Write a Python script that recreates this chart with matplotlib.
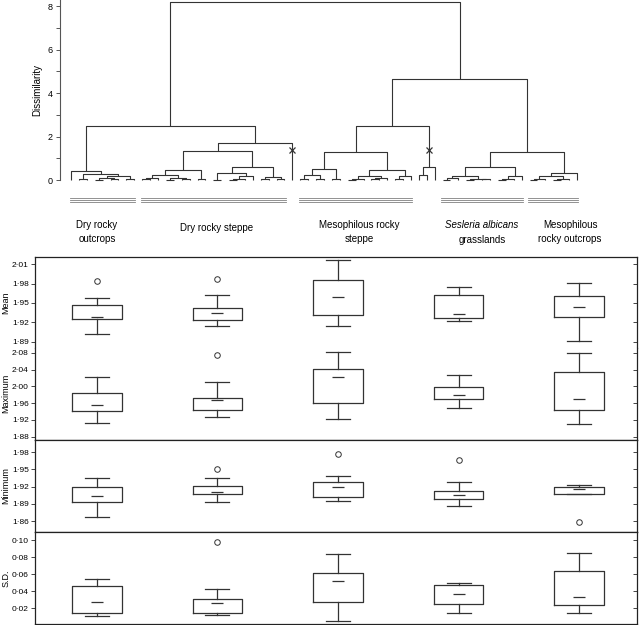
import matplotlib
matplotlib.use("Agg")
import matplotlib.pyplot as plt
from matplotlib.ticker import MultipleLocator, FixedLocator, FuncFormatter

plt.rcParams['font.family'] = ['Liberation Sans', 'DejaVu Sans']

# --- dendrogram (node = [height, left, right], leaf = 0, ("x", ...) = cut mark) ---
DRY_OUTCROPS = [0.43, 0, [0.29, [0.03, 0, 0], [0.18, [0.08, [0.02, 0, 0], [0.03, 0, 0]], [0.03, 0, 0]]]]
DRY_STEPPE = [1.7,
              [1.35,
               [0.47, [0.24, [0.10, [0.03, 0, 0], 0], [0.08, [0.02, 0, 0], [0.03, 0, 0]]], [0.03, 0, 0]],
               [0.58, [0.33, [0.02, 0, 0], [0.20, [0.06, [0.02, 0, 0], 0], 0]], [0.13, [0.03, 0, 0], [0.05, 0, 0]]]],
              ("x", 0)]
MESO_STEPPE = [2.47,
               [1.29,
                [0.49, [0.22, [0.05, 0, 0], [0.03, 0, 0]], [0.03, 0, 0]],
                [0.47, [0.20, [0.05, [0.02, 0, 0], 0], [0.10, [0.03, 0, 0], 0]], [0.20, [0.03, 0, 0], 0]]],
               ("x", [0.61, [0.23, 0, 0], 0])]
SESLERIA = [0.58, [0.20, [0.08, [0.02, 0, 0], 0], [0.05, [0.02, 0, 0], [0.03, 0, 0]]],
            [0.20, [0.06, [0.02, 0, 0], 0], 0]]
MESO_OUTCROPS = [0.31, [0.20, [0.06, [0.02, 0, 0], 0], [0.04, [0.02, 0, 0], 0]], 0]

GROUP_TREES = [DRY_OUTCROPS, DRY_STEPPE, MESO_STEPPE, SESLERIA, MESO_OUTCROPS]
ROOT_H, DRY_H, MESIC_H, UPPER_H = 8.2, 2.48, 4.63, 1.29
CUT_H = 1.4

# --- box plots (5 groups) ---
GROUPS = ["Dry rocky outcrops", "Dry rocky steppe", "Mesophilous rocky steppe",
          "Sesleria albicans grasslands", "Mesophilous rocky outcrops"]

mean_lo = [1.902, 1.9136, 1.9136, 1.9223, 1.8906]
mean_q1 = [1.925, 1.923, 1.9315, 1.9273, 1.928]
mean_mu = [1.928, 1.9345, 1.9595, 1.933, 1.944]
mean_q3 = [1.946, 1.942, 1.986, 1.9626, 1.9606]
mean_hi = [1.958, 1.9626, 2.0166, 1.9743, 1.981]
mean_out = [[1.984], [1.987], [], [], []]

max_lo = [1.913, 1.928, 1.922, 1.9475, 1.911]
max_q1 = [1.940, 1.943, 1.960, 1.970, 1.943]
max_mu = [1.955, 1.967, 2.021, 1.980, 1.970]
max_q3 = [1.985, 1.973, 2.041, 1.998, 2.0345]
max_hi = [2.021, 2.010, 2.082, 2.027, 2.079]
max_out = [[], [2.0745], [], [], []]

min_lo = [1.8675, 1.8925, 1.8948, 1.8861, 1.907]
min_q1 = [1.8925, 1.9064, 1.9017, 1.8977, 1.907]
min_mu = [1.9035, 1.9104, 1.9191, 1.9058, 1.9151]
min_q3 = [1.9186, 1.9214, 1.9273, 1.9127, 1.9197]
min_hi = [1.9348, 1.9353, 1.9383, 1.9273, 1.9226]
min_out = [[], [1.9504], [1.976], [1.9666], [1.8588]]

sd_lo = [0.0101, 0.0118, 0.0042, 0.0145, 0.0141]
sd_q1 = [0.0145, 0.0145, 0.0274, 0.0251, 0.0235]
sd_mu = [0.0271, 0.0259, 0.0518, 0.0372, 0.0325]
sd_q3 = [0.0466, 0.0309, 0.0612, 0.0478, 0.0642]
sd_hi = [0.0545, 0.0431, 0.0843, 0.0494, 0.0851]
sd_out = [[], [0.0976], [], [], []]

LC = "#333333"
W, H = 640, 625
fig = plt.figure(figsize=(6.4, 6.25), dpi=100)

def fax(x0, y0, x1, y1):
    # pixel box -> figure fraction axes
    return fig.add_axes([x0 / W, 1 - y1 / H, (x1 - x0) / W, (y1 - y0) / H])

# ---------------- dendrogram ----------------
def count_leaves(node):
    if isinstance(node, tuple):
        node = node[1]
    if node == 0:
        return 1
    return count_leaves(node[1]) + count_leaves(node[2])

N = sum(count_leaves(t) for t in GROUP_TREES)
ppl = (577 - 71) / (N - 1)  # pixels per leaf
ax0 = fax(60, 0, 637, 180)
ax0.set_xlim(-(71 - 60) / ppl, (637 - 71) / ppl)
ax0.set_ylim(0, 8.28)

leaves = []  # (index, excluded)

def draw(node, excluded=False):
    mark = False
    if isinstance(node, tuple):
        mark, node, excluded = True, node[1], True
    if node == 0:
        i = len(leaves)
        leaves.append((i, excluded))
        return float(i), 0.0, mark
    h, l, r = node
    xl, hl, ml = draw(l, excluded)
    xr, hr, mr = draw(r, excluded)
    ax0.plot([xl, xl, xr, xr], [hl, h, h, hr], color=LC, lw=0.8, clip_on=False,
             solid_capstyle="butt")
    for x, m in ((xl, ml), (xr, mr)):
        if m:
            ax0.plot(x, CUT_H, marker="x", ms=4.5, mew=0.9, color=LC)
    return (xl + xr) / 2, h, mark

TREE = [ROOT_H, [DRY_H, DRY_OUTCROPS, DRY_STEPPE],
        [MESIC_H, MESO_STEPPE, [UPPER_H, SESLERIA, MESO_OUTCROPS]]]
draw(TREE)

for s in ["top", "right", "bottom"]:
    ax0.spines[s].set_visible(False)
ax0.spines["left"].set_color("#555555")
ax0.spines["left"].set_linewidth(0.8)
ax0.yaxis.set_major_locator(MultipleLocator(2))
ax0.yaxis.set_minor_locator(MultipleLocator(1))
ax0.tick_params(axis="y", which="both", length=3, width=0.7, color="#555555",
                labelsize=6.5, pad=2)
ax0.set_xticks([])
ax0.set_ylabel("Dissimilarity", fontsize=7, labelpad=4)

# group bars (triple lines) under the dendrogram
trans = ax0.get_xaxis_transform()
start = 0
for t in GROUP_TREES:
    n = count_leaves(t)
    idx = [i for i, ex in leaves[start:start + n] if not ex]
    for yy in (-0.10, -0.111, -0.122):
        ax0.plot([idx[0] - 0.15, idx[-1] + 0.15], [yy, yy], transform=trans,
                 color="#808080", lw=0.6, clip_on=False)
    start += n

def ftxt(x, y, s, **kw):
    fig.text(x / W, 1 - y / H, s, ha="center", va="center", fontsize=7, **kw)

ftxt(97, 232, "Dry rocky\noutcrops", linespacing=1.55)
ftxt(217, 228, "Dry rocky steppe")
ftxt(359, 232, "Mesophilous rocky\nsteppe", linespacing=1.55)
ftxt(482, 224.5, "Sesleria albicans", style="italic")
ftxt(482, 240, "grasslands")
ftxt(570, 232, "Mesophilous\nrocky outcrops", linespacing=1.55)

# ---------------- box panels ----------------
PANELS = [
    ("Mean", (257, 347.5), (1.881, 2.021), [1.89, 1.92, 1.95, 1.98, 2.01],
     mean_lo, mean_q1, mean_mu, mean_q3, mean_hi, mean_out),
    ("Maximum", (347.5, 440), (1.872, 2.0925), [1.88, 1.92, 1.96, 2.00, 2.04, 2.08],
     max_lo, max_q1, max_mu, max_q3, max_hi, max_out),
    ("Minimum", (440, 532), (1.841, 2.001), [1.86, 1.89, 1.92, 1.95, 1.98],
     min_lo, min_q1, min_mu, min_q3, min_hi, min_out),
    ("S.D.", (532, 624), (0.0012, 0.1098), [0.02, 0.04, 0.06, 0.08, 0.10],
     sd_lo, sd_q1, sd_mu, sd_q3, sd_hi, sd_out),
]

dot_fmt = FuncFormatter(lambda v, p: f"{v:.2f}".replace(".", "\u00b7"))
pos = list(range(1, len(GROUPS) + 1))

for k, (name, (y0, y1), ylim, ticks, lo, q1, mu, q3, hi, out) in enumerate(PANELS):
    ax = fax(35, y0, 637, y1)
    stats = [dict(whislo=lo[i], q1=q1[i], med=mu[i], mean=mu[i], q3=q3[i],
                  whishi=hi[i], fliers=out[i]) for i in range(len(GROUPS))]
    ax.bxp(stats, positions=pos, widths=0.41, capwidths=0.2, showmeans=True,
           boxprops=dict(color=LC, lw=0.9),
           whiskerprops=dict(color=LC, lw=0.9),
           capprops=dict(color=LC, lw=0.9),
           medianprops=dict(lw=0),
           meanprops=dict(marker="_", ms=8, mec=LC, mew=0.9),
           flierprops=dict(marker="o", ms=4, mfc="none", mec=LC, mew=0.7))
    ax.set_xlim(0.487, 5.48)
    ax.set_ylim(*ylim)
    ax.set_xticks([])
    ax.yaxis.set_major_locator(FixedLocator(ticks))
    ax.yaxis.set_major_formatter(dot_fmt)
    ax.tick_params(axis="y", length=3, width=0.7, labelsize=6, pad=1.5, color="#444444")
    for s in ax.spines.values():
        s.set_linewidth(0.9)
        s.set_color("#222222")
    if k == 0:
        ax.spines["bottom"].set_visible(False)
    if k == 1:
        ax.spines["top"].set_visible(False)
    rax = ax.secondary_yaxis("right")
    rax.set_yticks(ticks)
    rax.tick_params(direction="in", length=3, width=0.7, labelright=False, color="#444444")
    rax.spines["right"].set_visible(False)
    fig.text(6 / W, 1 - (y0 + y1) / 2 / H, name, rotation=90, ha="center", va="center",
             fontsize=6.5)

fig.savefig("out.png", dpi=100)
